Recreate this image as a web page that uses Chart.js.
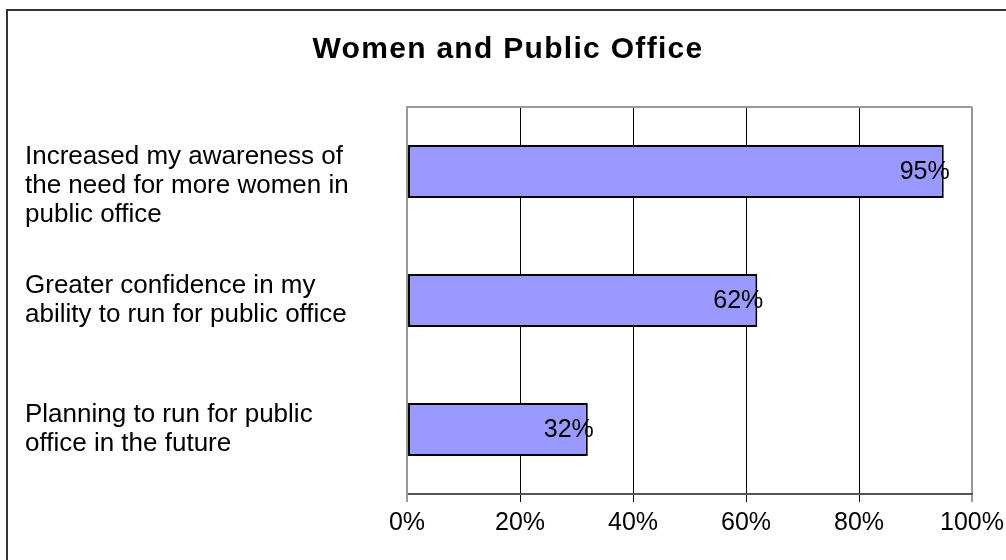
<!DOCTYPE html>
<html>
<head>
<meta charset="utf-8">
<title>Women and Public Office</title>
<script src="https://cdn.jsdelivr.net/npm/chart.js@4.4.1/dist/chart.umd.min.js"></script>
<style>
  html, body { margin: 0; padding: 0; background: #fff; }
  canvas { display: block; }
</style>
</head>
<body>
<canvas id="chart" width="1006" height="560"></canvas>
<script>
  // ===== Datos =====
  const TITULO = "Women and Public Office";
  const categorias = [
    ["Increased my awareness of", "the need for more women in", "public office"],
    ["Greater confidence in my", "ability to run for public office"],
    ["Planning to run for public", "office in the future"],
  ];
  const valores = [95, 62, 32]; // porcentaje
  const ticksX = [0, 20, 40, 60, 80, 100];

  const FUENTE = "Arial, 'Liberation Sans', sans-serif";

  // ===== Plugin: marco, título, borde superior y etiquetas de valor =====
  const decoracion = {
    id: "decoracion",
    beforeDraw(chart) {
      const ctx = chart.ctx;
      ctx.save();
      ctx.fillStyle = "#fff";
      ctx.fillRect(0, 0, chart.width, chart.height);
      // marco exterior (recortado a la derecha y abajo)
      ctx.strokeStyle = "#333";
      ctx.lineWidth = 2;
      ctx.strokeRect(7, 10, chart.width + 50, chart.height + 50);
      // título con espaciado entre letras
      ctx.fillStyle = "#000";
      ctx.font = "bold 30px " + FUENTE;
      ctx.textAlign = "center";
      ctx.textBaseline = "alphabetic";
      ctx.letterSpacing = "1.3px";
      ctx.fillText(TITULO, 508, 58);
      ctx.restore();
    },
    beforeDatasetsDraw(chart) {
      const { ctx, chartArea: a } = chart;
      ctx.save();
      ctx.strokeStyle = "#999";
      ctx.lineWidth = 2;
      ctx.beginPath();
      ctx.moveTo(a.left, a.top);
      ctx.lineTo(a.right, a.top);
      ctx.stroke();
      ctx.restore();
    },
    afterDatasetsDraw(chart) {
      const ctx = chart.ctx;
      const meta = chart.getDatasetMeta(0);
      ctx.save();
      ctx.fillStyle = "#000";
      ctx.font = "25px " + FUENTE;
      ctx.textAlign = "right";
      ctx.textBaseline = "middle";
      meta.data.forEach((bar, i) => {
        ctx.fillText(valores[i] + "%", bar.x + 6, bar.y + 1);
      });
      ctx.restore();
    },
  };

  const ultimo = ticksX.length - 1;

  new Chart(document.getElementById("chart").getContext("2d"), {
    type: "bar",
    data: {
      labels: categorias,
      datasets: [
        {
          data: valores,
          backgroundColor: "#9999FF",
          borderColor: "#000",
          borderWidth: 2,
          borderSkipped: false,
          barPercentage: 0.41,
          categoryPercentage: 1,
        },
      ],
    },
    options: {
      indexAxis: "y",
      responsive: false,
      animation: false,
      layout: { padding: { top: 107, left: 25, right: 34, bottom: 0 } },
      plugins: {
        legend: { display: false },
        title: { display: false },
        tooltip: { enabled: false },
      },
      scales: {
        x: {
          min: 0,
          max: 100,
          afterBuildTicks: (scale) => {
            scale.ticks = ticksX.map((v) => ({ value: v }));
          },
          afterFit: (scale) => {
            scale.height = 66;
            scale.paddingRight = 0;
          },
          grid: {
            color: (c) => (c.index === 0 || c.index === ultimo ? "#999" : "#000"),
            lineWidth: (c) => (c.index === 0 || c.index === ultimo ? 2 : 1),
            tickLength: 8,
          },
          border: { color: "#555", width: 2 },
          ticks: {
            color: "#000",
            padding: 6,
            maxRotation: 0,
            font: { family: FUENTE, size: 25 },
            callback: (v) => v + "%",
          },
        },
        y: {
          afterFit: (scale) => {
            scale.width = 382;
          },
          grid: { display: false },
          border: { color: "#999", width: 2 },
          ticks: {
            color: "#000",
            crossAlign: "far",
            font: { family: FUENTE, size: 26, lineHeight: 1.1 },
            // la primera etiqueta va algo más abajo en el original
            callback: (v, i) => (i === 0 ? [""].concat(categorias[i]) : categorias[i]),
          },
        },
      },
    },
    plugins: [decoracion],
  });
</script>
</body>
</html>
